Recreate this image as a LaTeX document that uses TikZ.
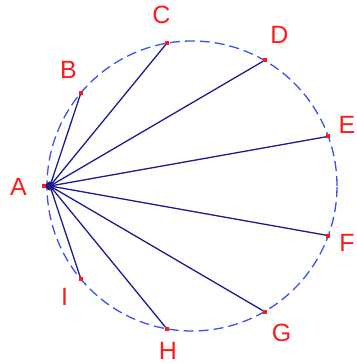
\documentclass[tikz,border=0pt]{standalone}
\usepackage{fontspec}
\setmainfont{Liberation Sans}
\usetikzlibrary{calc}
\definecolor{chord}{HTML}{1C1C8E}
\definecolor{ring}{HTML}{3A50F0}
\definecolor{lab}{HTML}{FF1A1A}
\tikzset{
  chordline/.style={draw=chord, line width=1.3pt},
  ringline/.style={draw=ring, line width=1.3pt, dash pattern=on 10pt off 5pt},
  ptmark/.style={rectangle, fill=lab, minimum size=4pt, inner sep=0pt},
  ptlab/.style={text=lab, font=\fontsize{25}{25}\selectfont, inner sep=0pt}
}
\begin{document}
\begin{tikzpicture}[x=1pt,y=1pt]
\useasboundingbox (0,0) rectangle (356,364);
\coordinate (O) at (192,178);
\draw[ringline] (O) circle[radius=145pt];
\coordinate (A) at ($(O)+(180:142pt)$);
\coordinate (B) at ($(O)+(140:145pt)$);
\coordinate (C) at ($(O)+(100:145pt)$);
\coordinate (D) at ($(O)+(60:145pt)$);
\coordinate (E) at ($(O)+(20:145pt)$);
\coordinate (F) at ($(O)+(-20:145pt)$);
\coordinate (G) at ($(O)+(-60:145pt)$);
\coordinate (H) at ($(O)+(-100:145pt)$);
\coordinate (I) at ($(O)+(-140:145pt)$);
\foreach \p in {B,C,D,E,F,G,H,I} \draw[chordline] (A) -- (\p);
\node[ptmark] (mA) at ($(A)+(-6pt,0)$) {};
\fill[chord] (A) circle[radius=4.5pt];
\foreach \p in {B,C,D,E,F,G,H,I} \node[ptmark] (m\p) at (\p) {};
\node[ptlab] (lA) at (18.5,177.5) {A};
\node[ptlab] (lB) at (68.5,294) {B};
\node[ptlab] (lC) at (161.5,349.5) {C};
\node[ptlab] (lD) at (279.5,329) {D};
\node[ptlab] (lE) at (347,239) {E};
\node[ptlab] (lF) at (347,121) {F};
\node[ptlab] (lG) at (281.5,31) {G};
\node[ptlab] (lH) at (168,13) {H};
\node[ptlab] (lI) at (64.5,67) {I};
\end{tikzpicture}
\end{document}
